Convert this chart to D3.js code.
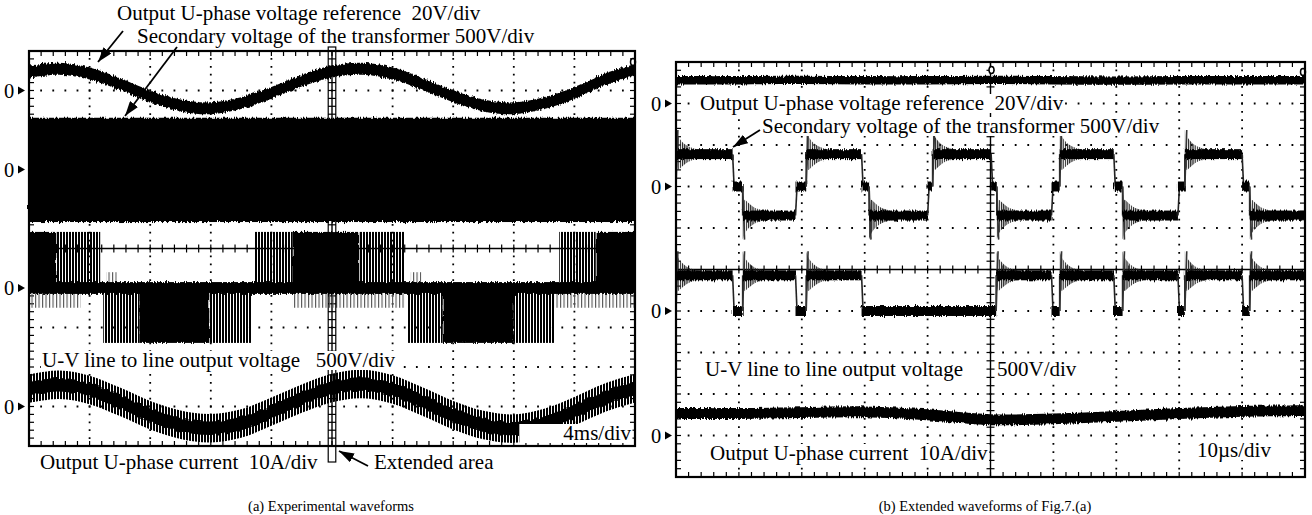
<!DOCTYPE html>
<html>
<head>
<meta charset="utf-8">
<script src="https://cdn.jsdelivr.net/npm/d3@7"></script>
<style>
  body { margin: 0; background: #fff; }
  text { font-family: "Liberation Serif", "Times New Roman", serif; fill: #000; white-space: pre; }
</style>
</head>
<body>
<svg id="chart" width="1312" height="515"></svg>
<script>
// ---------- data (read off the scope shots) ----------
// (a) 4 ms/div, time in ms, values in divisions from each trace's 0 marker
const timeA = [0, 2, 4, 6, 8, 10, 12, 14, 16, 18, 20, 22, 24, 26, 28, 30, 32, 34, 36, 38, 40];
const refA = [0.48, 0.55, 0.43, 0.16, -0.15, -0.38, -0.45, -0.32, -0.06, 0.25, 0.48, 0.55, 0.43, 0.16, -0.15, -0.38, -0.45, -0.32, -0.06, 0.28, 0.52];
const curA = [0.45, 0.55, 0.42, 0.12, -0.22, -0.46, -0.55, -0.43, -0.13, 0.2, 0.47, 0.57, 0.43, 0.12, -0.22, -0.47, -0.56, -0.42, -0.12, 0.22, 0.46];
const secA = [1.31, -1.33];            // envelope of the secondary voltage
const uvLevelA = [1.42, -1.39];        // +E / -E of the U-V line voltage
const uvPosSolid = [[0, 1.8], [17.4, 21.8], [37.4, 40]];
const uvPosPwm = [[1.8, 4.7], [14.9, 17.4], [21.8, 24.8], [35.0, 37.4]];
const uvNegSolid = [[7.3, 11.9], [27.3, 32.0]];
const uvNegPwm = [[4.9, 7.3], [11.9, 14.7], [25.0, 27.3], [32.0, 34.7]];
const uvNegShort = [[0, 3.4], [17.4, 24.8], [34.7, 40]];
const uvPosShort = [[5.1, 5.8], [25.2, 25.9]];
const extendedArea = [19.75, 20.25];

// (b) 10 us/div, time in us
const timeB = [0, 10, 20, 30, 40, 50, 60, 70, 80, 90, 100];
const refB = [0.56, 0.56, 0.57, 0.56, 0.56, 0.57, 0.56, 0.55, 0.56, 0.56, 0.56];
const curB = [0.53, 0.53, 0.55, 0.57, 0.5, 0.38, 0.4, 0.46, 0.53, 0.58, 0.6];
const secEdgesB = [0, 9.0, 10.6, 19.0, 20.7, 29.5, 30.7, 40.0, 40.8, 50.1, 51.0, 59.7, 61.0, 69.6, 71.0, 79.8, 80.9, 90.0, 91.2, 100];
const secLevelsB = [0.78, 0, -0.7, 0, 0.78, 0, -0.7, 0, 0.78, 0, -0.7, 0, 0.78, 0, -0.7, 0, 0.78, 0, -0.7];
const uvEdgesB = [0, 9.0, 10.6, 19.0, 20.7, 29.5, 50.9, 59.7, 61.0, 69.6, 71.0, 79.8, 80.9, 90.0, 91.2, 100];
const uvLevelsB = [0.86, 0, 0.86, 0, 0.86, 0, 0.86, 0, 0.86, 0, 0.86, 0, 0.86, 0, 0.86];
// ringing after a switching edge: time after edge (us), overshoot / undershoot (div)
const ringT = [0, 0.3, 0.8, 1.6, 2.6, 4.0];
const ringOver = [0.58, 0.45, 0.33, 0.22, 0.15, 0.1];
const ringUnder = [0, 0.38, 0.32, 0.22, 0.15, 0.1];

// where each trace's 0 marker sits, in divisions above screen centre
const zeroRows = [4, 2, -1, -4];

// ---------- setup ----------
const FS = 21;
const svg = d3.select('#chart');
const defs = svg.append('defs');

function hatch(id, step, sw, color) {
	const p = defs.append('pattern').attr('id', id)
		.attr('patternUnits', 'userSpaceOnUse')
		.attr('width', step).attr('height', 10);
	p.append('rect').attr('width', sw).attr('height', 10).attr('fill', color);
}
hatch('pwm', 3, 2, '#000');
hatch('pwmLight', 3.5, 1.1, '#555');
hatch('ring', 2.2, 1.2, '#222');

const rough = defs.append('filter').attr('id', 'rough')
	.attr('filterUnits', 'userSpaceOnUse')
	.attr('x', 0).attr('y', 0).attr('width', 1312).attr('height', 515);
rough.append('feTurbulence').attr('type', 'fractalNoise')
	.attr('baseFrequency', '0.9 0.07').attr('numOctaves', 2).attr('seed', 4).attr('result', 'n');
rough.append('feDisplacementMap').attr('in', 'SourceGraphic').attr('in2', 'n')
	.attr('scale', 5).attr('xChannelSelector', 'R').attr('yChannelSelector', 'G');

defs.append('marker').attr('id', 'arrow')
	.attr('viewBox', '0 0 15 10').attr('refX', 15).attr('refY', 5)
	.attr('markerUnits', 'userSpaceOnUse')
	.attr('markerWidth', 15).attr('markerHeight', 10)
	.attr('orient', 'auto')
	.append('path').attr('d', 'M0,0 L15,5 L0,10 z').attr('fill', '#000');

//graticule of one scope screen, 10 x 10 divisions
function makePanel(box, tMax) {
	const g = svg.append('g');
	const x = d3.scaleLinear().domain([0, tMax]).range([box.l, box.l + box.w]);
	const y = d3.scaleLinear().domain([-5, 5]).range([box.t + box.h, box.t]);
	const dx = box.w / 50, dy = box.h / 50;
	const grid = g.append('g').attr('stroke', '#000');

	d3.range(1, 10).filter(i => i !== 5).forEach(i => {
		grid.append('line')
			.attr('x1', x(tMax * i / 10)).attr('x2', x(tMax * i / 10))
			.attr('y1', box.t).attr('y2', box.t + box.h)
			.attr('stroke-width', 1.8)
			.attr('stroke-dasharray', `1.8 ${dy - 1.8}`).attr('stroke-dashoffset', 0.9);
		grid.append('line')
			.attr('y1', y(i - 5)).attr('y2', y(i - 5))
			.attr('x1', box.l).attr('x2', box.l + box.w)
			.attr('stroke-width', 1.8)
			.attr('stroke-dasharray', `1.8 ${dx - 1.8}`).attr('stroke-dashoffset', 0.9);
	});

	// centre axes with minor ticks
	grid.append('line').attr('x1', x(tMax / 2)).attr('x2', x(tMax / 2))
		.attr('y1', box.t).attr('y2', box.t + box.h).attr('stroke-width', 1.4);
	grid.append('line').attr('y1', y(0)).attr('y2', y(0))
		.attr('x1', box.l).attr('x2', box.l + box.w).attr('stroke-width', 1.4);
	d3.range(0, 51).forEach(k => {
		const tx = box.l + k * dx, ty = box.t + k * dy;
		grid.append('line').attr('x1', tx).attr('x2', tx).attr('y1', y(0) - 4).attr('y2', y(0) + 4).attr('stroke-width', 1.2);
		grid.append('line').attr('y1', ty).attr('y2', ty).attr('x1', x(tMax / 2) - 4).attr('x2', x(tMax / 2) + 4).attr('stroke-width', 1.2);
		// frame ticks
		grid.append('line').attr('x1', tx).attr('x2', tx).attr('y1', box.t).attr('y2', box.t + 5).attr('stroke-width', 1.2);
		grid.append('line').attr('x1', tx).attr('x2', tx).attr('y1', box.t + box.h - 5).attr('y2', box.t + box.h).attr('stroke-width', 1.2);
		grid.append('line').attr('y1', ty).attr('y2', ty).attr('x1', box.l).attr('x2', box.l + 5).attr('stroke-width', 1.2);
		grid.append('line').attr('y1', ty).attr('y2', ty).attr('x1', box.l + box.w - 5).attr('x2', box.l + box.w).attr('stroke-width', 1.2);
	});

	const data = g.append('g');
	const over = g.append('g');
	g.append('rect').attr('x', box.l).attr('y', box.t).attr('width', box.w).attr('height', box.h)
		.attr('fill', 'none').attr('stroke', '#000').attr('stroke-width', 2.2);

	// 0 markers
	zeroRows.forEach(r => {
		over.append('text').attr('x', box.l - 25).attr('y', y(r) + 7)
			.style('font-size', '20.5px').text('0');
		over.append('path')
			.attr('d', `M${box.l - 11},${y(r) - 4} L${box.l - 4},${y(r)} L${box.l - 11},${y(r) + 4} Z`)
			.attr('fill', '#000');
	});

	const ch = zeroRows.map(r => v => y(r + v));
	return {g, data, over, x, y, ch, box};
}

function smoothBand(P, parent, t, v, yc, half, fill, isRough) {
	const area = d3.area()
		.x(d => P.x(d[0]))
		.y0(d => yc(d[1] - half))
		.y1(d => yc(d[1] + half))
		.curve(d3.curveCatmullRom);
	parent.append('path').datum(d3.zip(t, v))
		.attr('d', area).attr('fill', fill)
		.attr('filter', isRough ? 'url(#rough)' : null);
}

function spanRect(P, parent, span, yc, v0, v1, fill, isRough) {
	parent.append('rect')
		.attr('x', P.x(span[0])).attr('width', P.x(span[1]) - P.x(span[0]))
		.attr('y', yc(Math.max(v0, v1))).attr('height', Math.abs(yc(v0) - yc(v1)))
		.attr('fill', fill)
		.attr('filter', isRough ? 'url(#rough)' : null);
}

//switching waveform with plateaus, edges and ringing
function stepTrace(P, parent, edges, levels, yc, half) {
	const ringArea = d3.area().x(d => P.x(d[0])).y0(d => yc(d[1])).y1(d => yc(d[2])).curve(d3.curveMonotoneX);
	levels.forEach((L, i) => {
		const s = edges[i], e = edges[i + 1];
		const prev = i === 0 ? 0 : levels[i - 1];
		if (i > 0) {
			parent.append('line')
				.attr('x1', P.x(s)).attr('x2', P.x(s) + (L === 0 ? 1.5 : 0))
				.attr('y1', yc(prev)).attr('y2', yc(L))
				.attr('stroke', '#222').attr('stroke-width', 1.6);
		}
		if (L !== 0) {
			const dir = Math.sign(L - prev) || 1;
			const pts = ringT.map((dt, k) => [s + dt, L + dir * ringOver[k], L - dir * ringUnder[k]]);
			parent.append('path').datum(pts).attr('d', ringArea).attr('fill', 'url(#ring)');
			parent.append('line')
				.attr('x1', P.x(s)).attr('x2', P.x(s + ringT[1]))
				.attr('y1', yc(prev)).attr('y2', yc(L + dir * ringOver[0]))
				.attr('stroke', '#333').attr('stroke-width', 1.6);
		}
		spanRect(P, parent, [s, e], yc, L - half, L + half, '#000', true);
	});
}

function label(parent, x, y, str, anchor, padLeft) {
	const t = parent.append('text').attr('x', x).attr('y', y)
		.style('font-size', `${FS}px`)
		.attr('text-anchor', anchor || 'start')
		.text(str);
	const bb = t.node().getBBox();
	const pl = padLeft || 1;
	parent.insert('rect', () => t.node())
		.attr('x', bb.x - pl).attr('y', bb.y + 3).attr('width', bb.width + pl + 1).attr('height', bb.height - 5)
		.attr('fill', '#fff');
	return t;
}

function arrow(parent, from, to) {
	parent.append('line')
		.attr('x1', from[0]).attr('y1', from[1]).attr('x2', to[0]).attr('y2', to[1])
		.attr('stroke', '#000').attr('stroke-width', 1.8)
		.attr('marker-end', 'url(#arrow)');
}

// small position markers at the screen edges
function marker(parent, cx, cy) {
	parent.append('ellipse').attr('cx', cx).attr('cy', cy).attr('rx', 2.5).attr('ry', 3.5)
		.attr('fill', '#fff').attr('stroke', '#000').attr('stroke-width', 1.5);
}

// ---------- (a) experimental waveforms ----------
const A = makePanel({l: 29, t: 51, w: 606, h: 395}, 40);

// reference voltage
smoothBand(A, A.data, timeA, refA, A.ch[0], 0.15, '#000', true);

// secondary voltage of the transformer: dense switching -> solid block
spanRect(A, A.data, [0, 40], A.ch[1], secA[1], secA[0], '#000', true);

// U-V line-to-line voltage
const uv = A.data.append('g');
uvPosShort.forEach(s => spanRect(A, uv, s, A.ch[2], 0, 0.4, 'url(#pwmLight)'));
uvNegShort.forEach(s => spanRect(A, uv, s, A.ch[2], -0.5, 0, 'url(#pwmLight)'));
uvPosPwm.forEach(s => spanRect(A, uv, s, A.ch[2], 0, uvLevelA[0], 'url(#pwm)'));
uvNegPwm.forEach(s => spanRect(A, uv, s, A.ch[2], uvLevelA[1], 0, 'url(#pwm)'));
uvPosSolid.forEach(s => spanRect(A, uv, s, A.ch[2], 0, uvLevelA[0], '#000', true));
uvNegSolid.forEach(s => spanRect(A, uv, s, A.ch[2], uvLevelA[1], 0, '#000', true));
spanRect(A, uv, [0, 40], A.ch[2], -0.15, 0.15, '#000', true);

// output current with PWM ripple fringe
smoothBand(A, A.data, timeA, curA, A.ch[3], 0.36, 'url(#pwm)', false);
smoothBand(A, A.data, timeA, curA, A.ch[3], 0.17, '#000', true);

// extended area box
A.over.append('rect')
	.attr('x', A.x(extendedArea[0])).attr('width', A.x(extendedArea[1]) - A.x(extendedArea[0]))
	.attr('y', 47).attr('height', 415)
	.attr('fill', 'none').attr('stroke', '#000').attr('stroke-width', 1.2);
marker(A.over, 633, 62);

label(A.over, 631, 440, '4ms/div', 'end', 44);
label(A.over, 42, 367, 'U-V line to line output voltage   500V/div');

const notes = svg.append('g');
label(notes, 117, 20, 'Output U-phase voltage reference  20V/div');
label(notes, 137, 43, 'Secondary voltage of the transformer 500V/div');
arrow(notes, [123, 31], [98, 62]);
arrow(notes, [177, 47], [125, 116]);
label(notes, 40, 469, 'Output U-phase current  10A/div');
label(notes, 374, 469, 'Extended area');
arrow(notes, [368, 466], [339, 451]);
notes.append('text').attr('x', 331).attr('y', 511).attr('text-anchor', 'middle')
	.style('font-size', '14.5px').text('(a) Experimental waveforms');

// ---------- (b) extended waveforms ----------
const B = makePanel({l: 676, t: 62, w: 629, h: 415}, 100);

smoothBand(B, B.data, timeB, refB, B.ch[0], 0.1, '#000', true);
stepTrace(B, B.data.append('g'), secEdgesB, secLevelsB, B.ch[1], 0.12);
stepTrace(B, B.data.append('g'), uvEdgesB, uvLevelsB, B.ch[2], 0.12);
smoothBand(B, B.data, timeB, curB, B.ch[3], 0.13, '#000', true);
marker(B.over, B.x(50) + 1, 70);
marker(B.over, 1303, 72);

label(B.over, 700, 110, 'Output U-phase voltage reference  20V/div');
label(B.over, 762, 133, 'Secondary voltage of the transformer 500V/div');
arrow(B.over, [760, 130], [733, 147]);
label(B.over, 705, 376, 'U-V line to line output voltage');
label(B.over, 997, 376, '500V/div');
label(B.over, 710, 460, 'Output U-phase current  10A/div');
label(B.over, 1197, 457, '10\u00b5s/div');
svg.append('text').attr('x', 985).attr('y', 511).attr('text-anchor', 'middle')
	.style('font-size', '14.5px').text('(b) Extended waveforms of Fig.7.(a)');
</script>
</body>
</html>
